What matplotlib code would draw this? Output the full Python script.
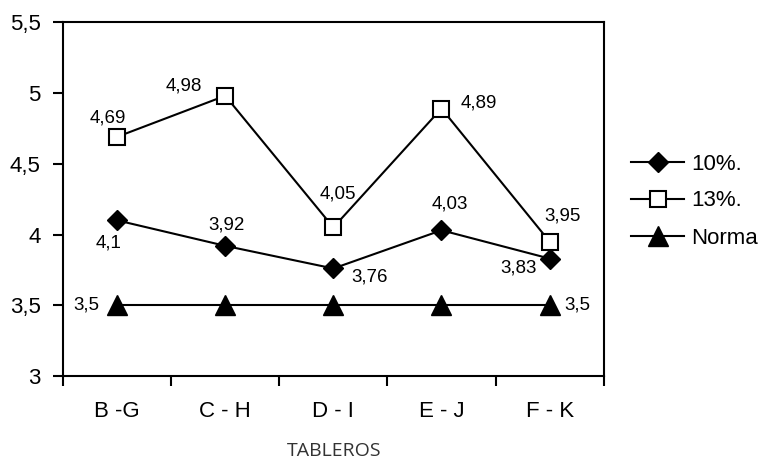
import matplotlib.pyplot as plt

plt.rcParams['font.family'] = ['Liberation Sans', 'DejaVu Sans']

# datos por tablero
tableros = ['B -G', 'C - H', 'D - I', 'E - J', 'F - K']
serie_10 = [4.1, 3.92, 3.76, 4.03, 3.83]
serie_13 = [4.69, 4.98, 4.05, 4.89, 3.95]
norma = [3.5, 3.5, 3.5, 3.5, 3.5]

x = list(range(len(tableros)))

fig = plt.figure(figsize=(7.69, 4.62), dpi=100)
ax = fig.add_axes([0.082, 0.186, 0.703, 0.766])

ax.plot(x, serie_10, color='black', lw=1.5, marker='D', ms=10.5,
        mfc='black', mec='black', label='10%.')
ax.plot(x, serie_13, color='black', lw=1.5, marker='s', ms=12,
        mfc='white', mec='black', mew=1.5, label='13%.')
ax.plot(x, norma, color='black', lw=1.5, marker='^', ms=14,
        mfc='black', mec='black', label='Norma')

def fmt(v):
    return ('%g' % v).replace('.', ',')

# desplazamiento de cada etiqueta respecto al punto (pixeles)
off_10 = [(-9, -23), (1, 21), (36, -9), (8, 26), (-31, -9)]
off_13 = [(-9, 19), (-41, 10), (5, 33), (37, 6), (13, 26)]
off_norma = {0: (-31, 0), len(x) - 1: (28, 0)}

def etiquetar(serie, offs):
    for i, (dx, dy) in offs:
        ax.annotate(fmt(serie[i]), (x[i], serie[i]), xytext=(dx, dy),
                    textcoords='offset pixels', ha='center', va='center',
                    fontsize=13.5)

etiquetar(serie_10, enumerate(off_10))
etiquetar(serie_13, enumerate(off_13))
etiquetar(norma, off_norma.items())

yt = [3, 3.5, 4, 4.5, 5, 5.5]
ax.set_xlim(-0.5, len(x) - 0.5)
ax.set_ylim(3, 5.5)
ax.set_yticks(yt)
ax.set_yticklabels([fmt(v) for v in yt])
ax.set_xticks(x)
ax.set_xticklabels(tableros)
ax.set_xticks([i - 0.5 for i in range(len(x) + 1)], minor=True)
ax.tick_params(axis='x', which='major', length=0, pad=18, labelsize=16)
ax.tick_params(axis='x', which='minor', length=7, width=1.5, direction='out')
ax.tick_params(axis='y', length=7, width=1.5, direction='out', labelsize=16, pad=9)
for s in ax.spines.values():
    s.set_linewidth(1.5)

fig.text(334 / 769, 1 - 451 / 462, 'TABLEROS', ha='center', va='center',
         fontsize=14, family=['Open Sans', 'DejaVu Sans'], color='#333333')

ax.legend(loc='center left', bbox_to_anchor=(631 / 769, 1 - 201 / 462),
          bbox_transform=fig.transFigure, frameon=False, borderpad=0,
          fontsize=16, handlelength=2.4, handletextpad=0.3, labelspacing=0.72,
          borderaxespad=0)

fig.savefig('out.png', dpi=100)
